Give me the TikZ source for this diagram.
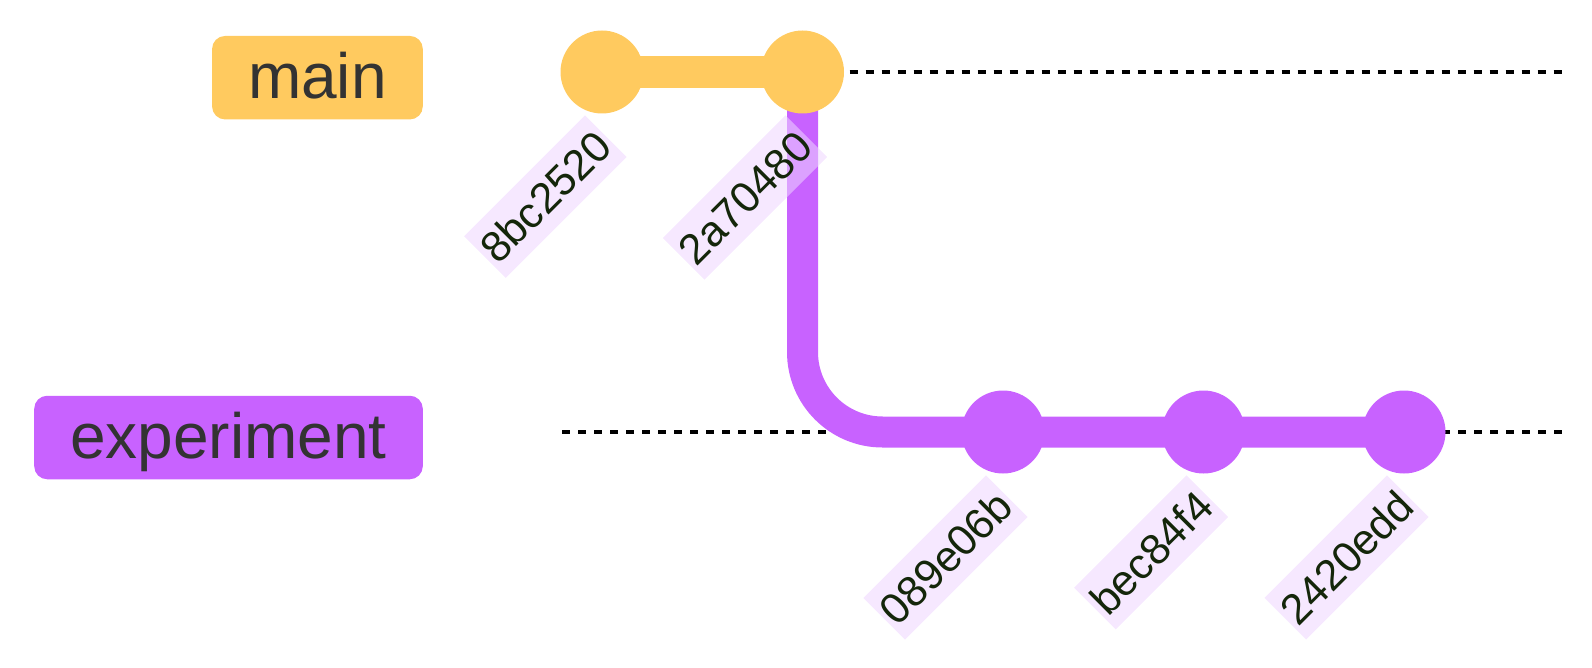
\documentclass[tikz,border=0pt]{standalone}
\usepackage{fontspec}
\setmainfont{Liberation Sans}
\usetikzlibrary{backgrounds}

\definecolor{mainyellow}{RGB}{255,202,95}
\definecolor{exppurple}{RGB}{200,98,255}
\definecolor{hashbg}{RGB}{238,214,255}
\definecolor{hashtext}{RGB}{20,38,10}
\definecolor{branchtext}{RGB}{51,51,51}

\begin{document}
\begin{tikzpicture}[x=1pt,y=1pt]
      \tikzstyle{every node}=[node distance=200.5pt]
      \tikzstyle{commit}=[circle, minimum size=83pt, inner sep=0pt]
      \tikzstyle{branch}=[rounded corners=13pt, anchor=east, inner xsep=36pt, inner ysep=0pt, minimum height=83.5pt, text height=48pt, text depth=6pt, text=branchtext, font=\fontsize{64}{64}\selectfont]
      \tikzstyle{hash}=[rotate=45, anchor=east, fill=hashbg, fill opacity=.55, text opacity=1, text=hashtext, inner xsep=3pt, inner ysep=0pt, minimum height=59pt, text height=31pt, text depth=0pt, font=\fontsize{43}{43}\selectfont]
      \tikzstyle{timeline}=[black, line width=4pt, dash pattern=on 8pt off 8pt]
      %
      \useasboundingbox (0,0) rectangle (1592,-668);
      %
      \node [branch, fill=mainyellow] (main)       at (423,-77.7)  {main};
      \node [branch, fill=exppurple]  (experiment) at (423,-437.5) {experiment};
      %
      \node [commit, fill=mainyellow] (c1) at (602,-72)   {};
      \node [commit, fill=mainyellow] (c2) [right of=c1]  {};
      \node [commit, fill=exppurple]  (c3) at (1003,-432) {};
      \node [commit, fill=exppurple]  (c4) [right of=c3]  {};
      \node [commit, fill=exppurple]  (c5) [right of=c4]  {};
      %
      \begin{scope}[on background layer]
        \coordinate (mainend)  at (1564,-72);
        \coordinate (expstart) at (562,-432);
        \coordinate (expend)   at (1564,-432);
        \draw [timeline, dash phase=1pt] (c2.center) -- (mainend);
        \draw [timeline] (expstart) -- (expend);
        \draw [exppurple, line width=31pt, rounded corners=80pt] (c2.center) |- (c5.center);
        \draw [mainyellow, line width=32pt] (c1.center) -- (c2.center);
      \end{scope}
      %
      \node [hash] (h1) at ([shift={(4,-64)}]c1.center) {8bc2520};
      \node [hash] (h2) at ([shift={(4,-64)}]c2.center) {2a70480};
      \node [hash] (h3) at ([shift={(4,-64)}]c3.center) {089e06b};
      \node [hash] (h4) at ([shift={(4,-64)}]c4.center) {bec84f4};
      \node [hash] (h5) at ([shift={(4,-64)}]c5.center) {2420edd};
\end{tikzpicture}
\end{document}
